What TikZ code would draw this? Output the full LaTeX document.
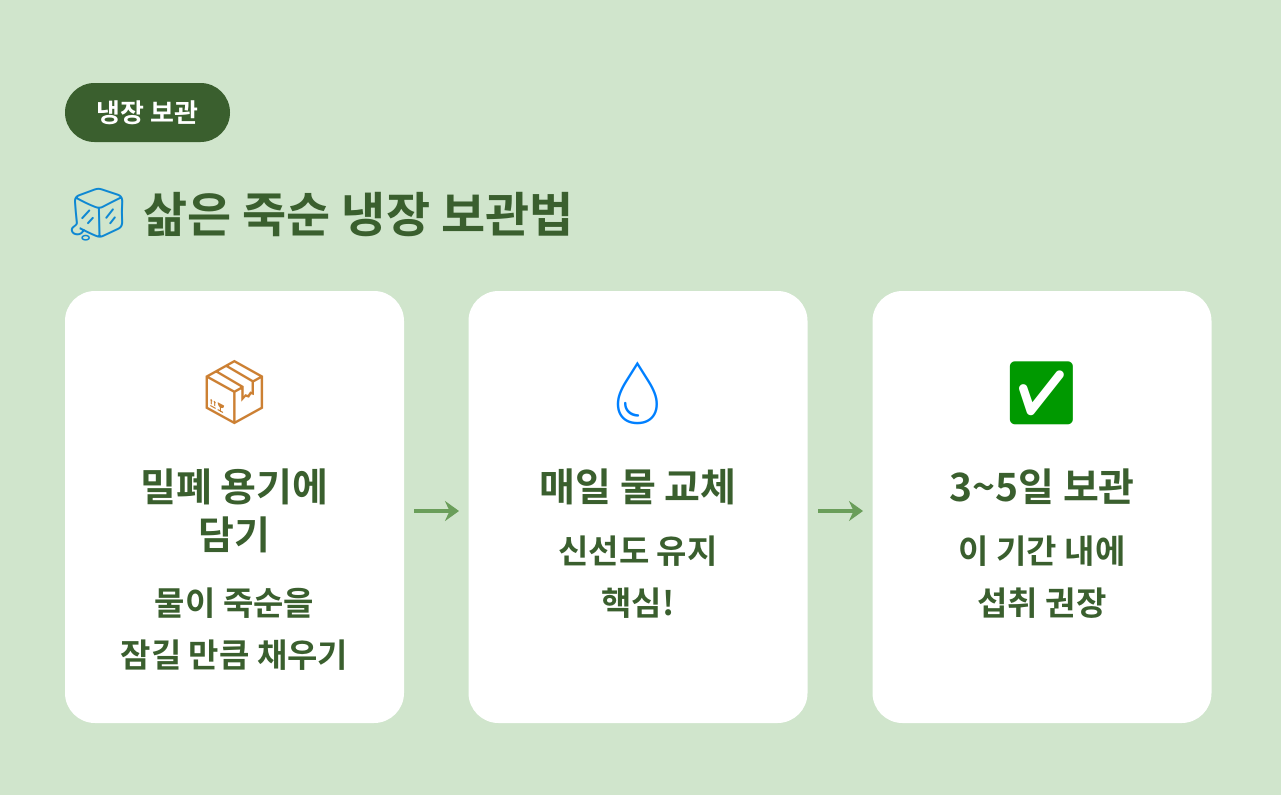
\documentclass[tikz,border=0pt]{standalone}
\usepackage{fontspec}
\usetikzlibrary{arrows.meta}
\setmainfont{Noto Sans CJK KR}[BoldFont={* Bold}]
\newfontfamily\emo{Noto Emoji}
\newfontfamily\kbold{Noto Sans CJK KR Bold}
\definecolor{bg}{HTML}{D0E5CC}
\definecolor{dg}{HTML}{3A5F2E}
\definecolor{ag}{HTML}{6A9E5A}
\tikzset{
 card/.style={fill=white,rounded corners=30pt,minimum width=339pt,minimum height=432pt,inner sep=0},
 ctitle/.style={text=dg,font=\kbold\fontsize{39}{48}\selectfont,align=center},
 cbody/.style={text=dg,font=\bfseries\fontsize{33}{52}\selectfont,align=center},
 ico/.style={font=\emo\fontsize{62}{66}\selectfont},
 arr/.style={draw=ag,line width=4pt,-{Stealth[length=14pt,width=20pt]}}
}
\begin{document}
\begin{tikzpicture}[x=1pt,y=-1pt]
\fill[bg] (0,0) rectangle (1281,795);
\useasboundingbox (0,0) rectangle (1281,795);
\node[fill=dg,rounded corners=29.5pt,minimum width=165pt,minimum height=59pt,text=white,font=\kbold\fontsize{26}{30}\selectfont] (pill) at (147.5,112.5) {냉장 보관};
\node[ico,text=cyan!70!blue,font=\emo\fontsize{52}{56}\selectfont] (cube) at (98,215) {🧊};
\node[anchor=west,text=dg,font=\kbold\fontsize{48}{54}\selectfont] (title) at (140,215) {삶은 죽순 냉장 보관법};
\node[card] (c1) at (234.5,507) {};
\node[card] (c2) at (638,507) {};
\node[card] (c3) at (1042,507) {};
\node[ico,text=brown!80!orange] (i1) at (234.5,393) {📦};
\node[ico,text=blue!50!cyan] (i2) at (638,393) {💧};
\node[ico,text=green!60!black] (i3) at (1042,393) {✅};
\node[ctitle] (t1) at (234.5,511) {밀폐 용기에\\담기};
\node[cbody] (b1) at (234.5,629) {물이 죽순을\\잠길 만큼 채우기};
\node[ctitle] (t2) at (638,487) {매일 물 교체};
\node[cbody] (b2) at (638,577) {신선도 유지\\핵심!};
\node[ctitle] (t3) at (1042,487) {3\char126 5일 보관};
\node[cbody] (b3) at (1042,577) {이 기간 내에\\섭취 권장};
\coordinate (a1s) at (414,511); \coordinate (a1e) at (459,511);
\coordinate (a2s) at (818,511); \coordinate (a2e) at (863,511);
\draw[arr] (a1s) -- (a1e);
\draw[arr] (a2s) -- (a2e);
\end{tikzpicture}
\end{document}
